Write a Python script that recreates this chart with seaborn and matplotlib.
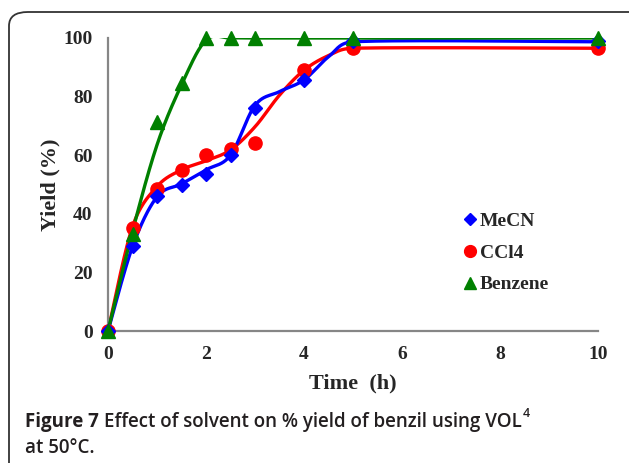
import numpy as np
import pandas as pd
import matplotlib
matplotlib.use('Agg')
import matplotlib.pyplot as plt
import seaborn as sns
from matplotlib.lines import Line2D
from matplotlib.patches import FancyBboxPatch

# podaci ocitani sa slike (tocke)
time_h = [0, 0.5, 1, 1.5, 2, 2.5, 3, 4, 5, 10]
mecn = [0, 29, 46, 50, 53.5, 60, 76, 85.5, 99, 99]
ccl4 = [0, 35, 48.5, 55, 60, 62, 64, 89, 96.5, 96.5]
benzene = [0, 33, 71.5, 84.5, 100, 100, 100, 100, 100, 100]
solvents = ['MeCN', 'CCl4', 'Benzene']

# krivulje (trend) ocitane sa slike - ne prolaze tocno kroz tocke
fit_time = [0, 0.5, 1, 1.5, 2, 2.5, 3, 3.5, 4, 4.5, 5, 10]
mecn_fit = [0, 28.8, 45.8, 50.2, 55, 60, 77, 81.7, 85.7, 93.6, 98.7, 98.7]
ccl4_fit = [0, 35.6, 49.3, 55, 58.1, 61.8, 69.7, 80.5, 89, 94, 96.5, 96.5]
benzene_fit = [0, 34, 63.5, 84, 99.3, 100, 100, 100, 100, 100, 100, 100]

df = pd.DataFrame({'time': time_h * 3,
                   'yield': mecn + ccl4 + benzene,
                   'solvent': np.repeat(solvents, len(time_h))})
fits = {'MeCN': mecn_fit, 'CCl4': ccl4_fit, 'Benzene': benzene_fit}

colors = {'MeCN': '#0000ff', 'CCl4': '#ff0000', 'Benzene': '#008000'}
markers = {'MeCN': 'D', 'CCl4': 'o', 'Benzene': '^'}
msize = {'MeCN': 7, 'CCl4': 9.5, 'Benzene': 9.5}

# skala u pikselima (x: 49 px/h, y: 2.93 px/%) - glacanje radimo u prikazu
SX, SY = 49.0, 2.93


def smooth(x, y, n=40):
    # glatka krivulja kao u Excelu (Bezier, kontrolne tocke ogranicene)
    p = np.column_stack([np.asarray(x) * SX, np.asarray(y) * SY]).astype(float)
    p = np.vstack([p[0], p, p[-1]])
    out = []
    t = np.linspace(0, 1, n)[:, None]
    for i in range(1, len(p) - 2):
        p0, p1, p2, p3 = p[i - 1], p[i], p[i + 1], p[i + 2]
        d12 = np.linalg.norm(p2 - p1)
        d02 = np.linalg.norm(p2 - p0) + 1e-9
        d13 = np.linalg.norm(p3 - p1) + 1e-9
        f1 = min(1 / 6, 0.5 * d12 / d02)
        f2 = min(1 / 6, 0.5 * d12 / d13)
        c1 = p1 + (p2 - p0) * f1
        c2 = p2 - (p3 - p1) * f2
        out.append((1 - t) ** 3 * p1 + 3 * (1 - t) ** 2 * t * c1
                   + 3 * (1 - t) * t ** 2 * c2 + t ** 3 * p2)
    out = np.vstack(out)
    return out[:, 0] / SX, out[:, 1] / SY


sns.set_style('white')
plt.rcParams['font.family'] = ['Liberation Serif', 'DejaVu Serif']

fig = plt.figure(figsize=(6.29, 4.63), dpi=100)
ax = fig.add_axes([108 / 629, 132 / 463, 490 / 629, 293 / 463])

order = ['CCl4', 'MeCN', 'Benzene']
for k, s in enumerate(order):
    sub = df[df.solvent == s]
    cx, cy = smooth(fit_time, fits[s])
    sns.lineplot(x=cx, y=cy, sort=False, estimator=None,
                 color=colors[s], lw=2.4, ax=ax, zorder=2 + k)
    ax.plot(sub.time, sub['yield'], ls='none', marker=markers[s],
            ms=msize[s], color=colors[s], mec=colors[s], clip_on=False,
            zorder=5 + k)

ax.set_xlim(0, 10)
ax.set_ylim(0, 100)
ax.set_xticks(range(0, 11, 2))
ax.set_yticks(range(0, 101, 20))
for side in ['top', 'right']:
    ax.spines[side].set_visible(False)
for side in ['left', 'bottom']:
    ax.spines[side].set_color('#868686')
    ax.spines[side].set_linewidth(1.6)
ax.tick_params(axis='both', direction='out', length=5, width=1.3,
               color='#868686', labelsize=14, pad=6)
for lab in ax.get_xticklabels() + ax.get_yticklabels():
    lab.set_fontweight('bold')
ax.set_xlabel('Time  (h)', fontsize=16, fontweight='bold', labelpad=7)
ax.set_ylabel('Yield (%)', fontsize=16, fontweight='bold', labelpad=2)

handles = [Line2D([], [], ls='none', marker=markers[s], ms=msize[s] - 1,
                  color=colors[s]) for s in solvents]
leg = ax.legend(handles, solvents, loc='upper left', frameon=False,
                bbox_to_anchor=(445 / 629, 1 - 195 / 463),
                bbox_transform=fig.transFigure,
                prop={'weight': 'bold', 'size': 14}, labelspacing=0.72,
                handlelength=0.8, handletextpad=0.1)

# okvir oko slike
fig.patches.append(FancyBboxPatch((9 / 629, -0.1), 640 / 629, 1.1 - 12 / 463,
                                  boxstyle='round,pad=0,rounding_size=0.03',
                                  transform=fig.transFigure, fill=False,
                                  ec='#333333', lw=1.3))

# potpis
cap = dict(family='Open Sans', fontsize=13.5, color='#231f20')
t1 = fig.text(25 / 629, 1 - 427 / 463, 'Figure 7', fontweight='bold',
              va='baseline', **cap)
fig.canvas.draw()
r = fig.canvas.get_renderer()
bb = t1.get_window_extent(r)
t2 = fig.text((bb.x1 + 5) / 629, 1 - 427 / 463,
              'Effect of solvent on % yield of benzil using VOL',
              va='baseline', fontweight='semibold', **cap)
bb2 = t2.get_window_extent(r)
fig.text((bb2.x1 + 1) / 629, 1 - 417 / 463, '4', va='baseline',
         family='Open Sans', fontsize=9, fontweight='semibold', color='#231f20')
fig.text(25 / 629, 1 - 453 / 463, 'at 50°C.', va='baseline',
         fontweight='semibold', **cap)

fig.savefig('out.png', dpi=100)
